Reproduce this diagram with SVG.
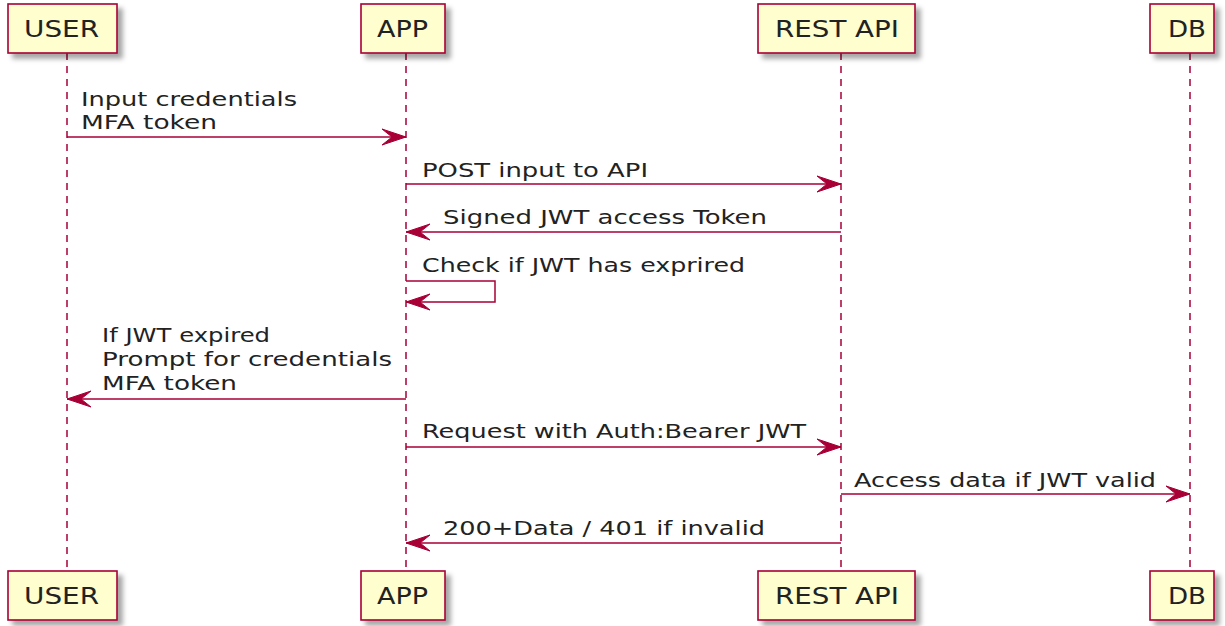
<svg xmlns="http://www.w3.org/2000/svg" width="1225" height="626" viewBox="0 0 1225 626">
<defs>
<filter id="sh" x="-20%" y="-20%" width="150%" height="160%">
<feGaussianBlur in="SourceAlpha" stdDeviation="2.5"/>
<feOffset dx="5" dy="5" result="o"/>
<feFlood flood-color="#000" flood-opacity="0.35"/>
<feComposite in2="o" operator="in"/>
<feMerge><feMergeNode/><feMergeNode in="SourceGraphic"/></feMerge>
</filter>
<marker id="ah" markerUnits="userSpaceOnUse" markerWidth="28" markerHeight="20" viewBox="-26 -10 28 20" refX="0" refY="0" orient="auto">
<path d="M0,0 L-24,-8 L-14,0 L-24,8 Z" fill="#A80036" stroke="#A80036" stroke-width="1" stroke-linejoin="miter"/>
</marker>
</defs>
<style>
.box{fill:#FEFECE;stroke:#A80036;stroke-width:1.6;filter:url(#sh)}
.life{stroke:#A80036;stroke-width:1.5;stroke-dasharray:7,6;fill:none}
.msg{stroke:#A80036;stroke-width:1.5;fill:none;marker-end:url(#ah)}
.pt{font-family:"DejaVu Sans",Verdana,sans-serif;font-size:23px;fill:#222}
.mt{font-family:"DejaVu Sans",Verdana,sans-serif;font-size:20px;fill:#222}
</style>
<g id="lifelines">
<line class="life" x1="67" y1="53" x2="67" y2="571"/>
<line class="life" x1="406" y1="53" x2="406" y2="571"/>
<line class="life" x1="841" y1="53" x2="841" y2="571"/>
<line class="life" x1="1190" y1="53" x2="1190" y2="571"/>
</g>
<g id="USER">
<rect class="box" x="8" y="4" width="109" height="49"/>
<text class="pt" x="24" y="37" textLength="75" lengthAdjust="spacingAndGlyphs">USER</text>
<rect class="box" x="8" y="571" width="109" height="49"/>
<text class="pt" x="24" y="604" textLength="75" lengthAdjust="spacingAndGlyphs">USER</text>
</g>
<g id="APP">
<rect class="box" x="361" y="4" width="84" height="49"/>
<text class="pt" x="377" y="37" textLength="51" lengthAdjust="spacingAndGlyphs">APP</text>
<rect class="box" x="361" y="571" width="84" height="49"/>
<text class="pt" x="377" y="604" textLength="51" lengthAdjust="spacingAndGlyphs">APP</text>
</g>
<g id="REST_API">
<rect class="box" x="758" y="4" width="157" height="49"/>
<text class="pt" x="775" y="37" textLength="124" lengthAdjust="spacingAndGlyphs">REST API</text>
<rect class="box" x="758" y="571" width="157" height="49"/>
<text class="pt" x="775" y="604" textLength="124" lengthAdjust="spacingAndGlyphs">REST API</text>
</g>
<g id="DB">
<rect class="box" x="1150" y="4" width="64" height="49"/>
<text class="pt" x="1168" y="37" textLength="38" lengthAdjust="spacingAndGlyphs">DB</text>
<rect class="box" x="1150" y="571" width="64" height="49"/>
<text class="pt" x="1168" y="604" textLength="38" lengthAdjust="spacingAndGlyphs">DB</text>
</g>
<g id="connectors">
<line class="msg" x1="67" y1="137" x2="406" y2="137"/>
<line class="msg" x1="406" y1="184" x2="841" y2="184"/>
<line class="msg" x1="841" y1="232" x2="406" y2="232"/>
<path class="msg" d="M406,281 H495 V302 H406"/>
<line class="msg" x1="406" y1="399" x2="67" y2="399"/>
<line class="msg" x1="406" y1="447" x2="841" y2="447"/>
<line class="msg" x1="841" y1="494" x2="1190" y2="494"/>
<line class="msg" x1="841" y1="543" x2="406" y2="543"/>
</g>
<g id="labels">
<text class="mt" x="81" y="106" textLength="216" lengthAdjust="spacingAndGlyphs">Input credentials</text>
<text class="mt" x="81" y="129" textLength="136" lengthAdjust="spacingAndGlyphs">MFA token</text>
<text class="mt" x="422" y="177" textLength="226" lengthAdjust="spacingAndGlyphs">POST input to API</text>
<text class="mt" x="443" y="224" textLength="324" lengthAdjust="spacingAndGlyphs">Signed JWT access Token</text>
<text class="mt" x="422" y="272" textLength="323" lengthAdjust="spacingAndGlyphs">Check if JWT has exprired</text>
<text class="mt" x="102" y="342" textLength="168" lengthAdjust="spacingAndGlyphs">If JWT expired</text>
<text class="mt" x="102" y="366" textLength="290" lengthAdjust="spacingAndGlyphs">Prompt for credentials</text>
<text class="mt" x="102" y="390" textLength="135" lengthAdjust="spacingAndGlyphs">MFA token</text>
<text class="mt" x="422" y="438" textLength="384" lengthAdjust="spacingAndGlyphs">Request with Auth:Bearer JWT</text>
<text class="mt" x="854" y="487" textLength="302" lengthAdjust="spacingAndGlyphs">Access data if JWT valid</text>
<text class="mt" x="443" y="535" textLength="322" lengthAdjust="spacingAndGlyphs">200+Data / 401 if invalid</text>
</g>
</svg>
